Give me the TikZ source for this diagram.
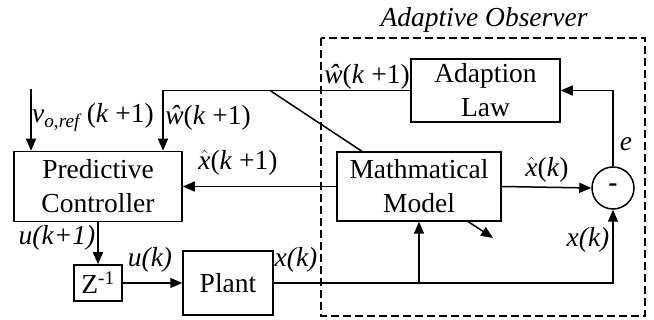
\documentclass[tikz,border=0pt]{standalone}
\usepackage{fontspec}
\setmainfont{Liberation Serif}
\usetikzlibrary{arrows.meta}
\newcommand{\xhat}{\(\hat{\mbox{\textit{x}}}\)}
\begin{document}
\begin{tikzpicture}[x=1pt,y=-1pt,
  every node/.style={font=\fontsize{27.5}{34}\selectfont},
  blk/.style={draw,line width=1.5pt,fill=white,align=center,inner sep=0pt},
  conn/.style={line width=1.5pt},
  arr/.style={line width=1.5pt,-{Triangle[length=12pt,width=10pt]}},
  lbl/.style={inner sep=0pt}]
\useasboundingbox (0,0) rectangle (654,320);
% observer frame
\draw[line width=1.5pt,dash pattern=on 8pt off 4pt] (321,38) rectangle (645,316);
\node[lbl,font=\fontsize{27.5}{34}\selectfont\itshape] (title) at (484,20) {Adaptive Observer};
% diagonal parameter line (drawn under the model box)
\coordinate (d1) at (270,90.5);
\coordinate (d2) at (493,238);
\draw[arr] (d1) -- (d2);
% blocks
\node[blk,minimum width=149pt,minimum height=63pt] (adapt) at (485.5,90.5) {Adaption\\Law};
\node[blk,minimum width=164pt,minimum height=69pt] (model) at (419,186.5) {Mathmatical\\Model};
\node[blk,minimum width=168pt,minimum height=70pt] (pred) at (98,186.5) {Predictive\\Controller};
\node[blk,minimum width=48pt,minimum height=36pt] (z) at (98,283) {Z\textsuperscript{-1}};
\node[blk,minimum width=90pt,minimum height=64pt] (plant) at (228,283) {Plant};
\node[draw,circle,line width=1.5pt,minimum size=42pt,inner sep=0pt,fill=white] (circ) at (613,188) {\textbf{-}};
% connectors
\coordinate (wt) at (163,90.5);
\draw[conn] (adapt.west) -- (wt);
\draw[arr] (wt) -- (wt |- pred.north);
\coordinate (vtop) at (31,89);
\draw[arr] (vtop) -- (vtop |- pred.north);
\draw[arr] (model.west) -- (pred.east);
\draw[arr] (model.east) -- (circ.west);
\draw[arr] (circ.north) |- (adapt.east);
\draw[arr] (pred.south) -- (z.north);
\draw[arr] (z.east) -- (plant.west);
\draw[arr] (plant.east) -| (circ.south);
\coordinate (tap) at (model.south |- plant.east);
\draw[arr] (tap) -- (model.south);
% labels
\node[lbl] (lw1) at (367,77) {\textit{ŵ}(\textit{k} +1)};
\node[lbl] (lw2) at (208,118) {\textit{ŵ}(\textit{k} +1)};
\node[lbl] (lv) at (93,118) {\textit{v}\textsubscript{\textit{o,ref}}\,(\textit{k} +1)};
\node[lbl] (lx1) at (238,163) {\xhat(\textit{k} +1)};
\node[lbl] (lx0) at (547,170) {\xhat(\textit{k})};
\node[lbl] (le) at (626,144) {\textit{e}};
\node[lbl] (lxk2) at (588,240) {\textit{x(k)}};
\node[lbl] (lu1) at (57,238) {\textit{u(k+1)}};
\node[lbl] (lu0) at (150,260) {\textit{u(k)}};
\node[lbl] (lxk1) at (296,260) {\textit{x(k)}};
\end{tikzpicture}
\end{document}
